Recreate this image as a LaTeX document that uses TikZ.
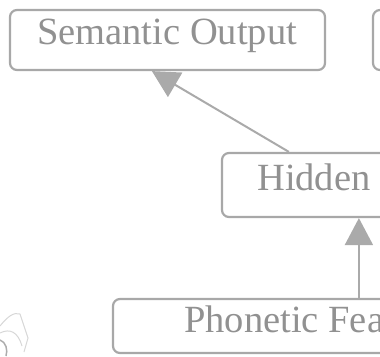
\documentclass[tikz,border=0pt]{standalone}
\usepackage{fontspec}
\setmainfont{Liberation Serif}
\usetikzlibrary{arrows.meta,calc}
\definecolor{boxgray}{RGB}{168,168,168}
\definecolor{txtgray}{RGB}{145,145,145}
\definecolor{arrgray}{RGB}{170,170,170}
\definecolor{faint}{RGB}{215,215,215}
\begin{document}
\begin{tikzpicture}[x=1pt,y=-1pt,
  box/.style={draw=boxgray, line width=2.2pt, rounded corners=7pt, inner sep=0pt, rectangle},
  lbl/.style={anchor=base west, inner sep=0pt, text=txtgray, font=\fontsize{38.5}{40}\selectfont},
  arr/.style={draw=arrgray, line width=2pt, -{Triangle[length=27pt,width=28pt]}}]
\useasboundingbox (0,0) rectangle (380,356);
\clip (0,0) rectangle (380,356);
% boxes
\node[box, minimum width=315pt, minimum height=60pt] (sem) at (167.5,40) {};
\node[box, minimum width=80pt, minimum height=60pt] (rbox) at (413,40) {};
\node[box, minimum width=240pt, minimum height=64pt] (hid) at (342,185) {};
\node[box, minimum width=300pt, minimum height=54pt] (pho) at (263,326) {};
% labels
\node[lbl] (semt) at (37,44.5) {Semantic Output};
\node[lbl] (hidt) at (257,190) {Hidden};
\node[lbl] (phot) at (184,332) {Phonetic Fea};
% connectors
\draw[arr] ([xshift=68pt]hid.north west) -- ([xshift=143pt]sem.south west);
\draw[arr] ([xshift=247pt]pho.north west) -- ([xshift=138pt]hid.south west);
% faint sketch at bottom left
\draw[faint, line width=1pt] (0,326) .. controls (8,316) and (14,312) .. (20,314) -- (28,338) -- (24,352);
\draw[faint, line width=1pt] (0,333) .. controls (10,328) and (18,332) .. (22,346);
\draw[faint!80!black, line width=1.5pt] (0,340) .. controls (6,342) and (8,350) .. (6,356);
\end{tikzpicture}
\end{document}
